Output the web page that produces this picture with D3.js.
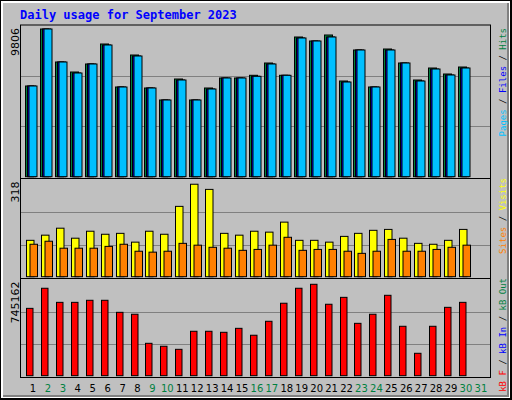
<!DOCTYPE html>
<html><head><meta charset="utf-8">
<script src="https://cdn.jsdelivr.net/npm/d3@7"></script>
<style>body{margin:0;background:#fff}</style>
</head><body>
<script>
var days = d3.range(1, 32)
var weekend = [2, 3, 9, 10, 16, 17, 23, 24, 30, 31]
var hits  = [5875,9566,7429,6781,7300,8595,5810,7882,5745,4968,6328,4968,5745,6393,6393,6568,7364,6568,9048,8789,9178,6198,8206,5810,8271,7364,6263,7040,6652,7105]
var files = [5875,9566,7429,6716,7300,8530,5810,7817,5745,4968,6263,4968,5680,6393,6393,6503,7300,6568,8984,8789,9048,6133,8206,5810,8206,7364,6198,6975,6587,7040]
var pages = files
var visits = [120,137,160,127,150,140,143,114,150,140,232,305,288,143,137,150,147,180,120,120,114,133,143,153,156,127,110,107,120,156]
var sites  = [107,117,94,94,94,100,107,84,81,84,110,104,97,94,87,90,104,130,87,90,90,84,77,84,123,84,84,90,97,104]
var kbytes = [526000,683000,573000,573000,589000,589000,495000,480000,253000,230000,206000,347000,347000,339000,370000,316000,425000,566000,683000,714000,558000,612000,409000,480000,628000,386000,175000,386000,534000,573000]
var maxLabels = ["9806", "318", "745162"]

var svg = d3.select("body").append("svg").attr("width", 512).attr("height", 400)
svg.append("rect").attr("x", 0).attr("y", 0).attr("width", 512).attr("height", 400).attr("fill", "#000")
svg.append("rect").attr("x", 1).attr("y", 1).attr("width", 509).attr("height", 397).attr("fill", "#fff")
svg.append("rect").attr("x", 3).attr("y", 3).attr("width", 506).attr("height", 394).attr("fill", "#808080")
svg.append("rect").attr("x", 3).attr("y", 3).attr("width", 504).attr("height", 392).attr("fill", "#c0c0c0")

svg.append("text").attr("x", 20).attr("y", 19)
    .style("font-family", "DejaVu Sans Mono").style("font-weight", "bold").style("font-size", "12px")
    .attr("fill", "#0000ff").text("Daily usage for September 2023")

var x = d3.scaleLinear().domain([1, 31]).range([25, 472.9])
var panels = [
  {top: 25, bottom: 178.5, y: d3.scaleLinear().domain([0, 9806]).range([176.7, 25.3])},
  {top: 178.5, bottom: 278.5, y: d3.scaleLinear().domain([0, 318]).range([276.7, 180.3])},
  {top: 278.5, bottom: 377.5, y: d3.scaleLinear().domain([0, 745162]).range([375.7, 280.3])}
]
panels.forEach(function(p, i) {
  svg.append("rect").attr("x", 20.5).attr("y", p.top).attr("width", 470).attr("height", p.bottom - p.top)
     .attr("fill", "#c0c0c0").attr("stroke", "#000")
  var b = p.y.range()[0], t = p.y.range()[1]
  ;[1, 2].forEach(function(k) {
    var gy = Math.round(b - (b - t) * k / 3) + 0.5
    svg.append("line").attr("x1", 21).attr("x2", 490).attr("y1", gy).attr("y2", gy).attr("stroke", "#808080")
  })
  svg.append("text").attr("transform", "translate(19," + (p.top + 3) + ") rotate(-90)")
     .attr("text-anchor", "end").style("font-family", "DejaVu Sans").style("font-size", "11px")
     .text(maxLabels[i])
})

function bars(data, p, dx, w, color) {
  svg.append("g").selectAll("rect").data(data).join("rect")
    .attr("x", function(d, i) { return Math.round(x(i + 1)) + dx + 0.5 })
    .attr("y", function(d) { return p.y(d) })
    .attr("width", w).attr("height", function(d) { return p.y(0) - p.y(d) })
    .attr("fill", color).attr("stroke", "#000")
}
bars(hits, panels[0], 0, 8, "#008040")
bars(files, panels[0], 2, 8, "#0000ff")
bars(pages, panels[0], 3.5, 8, "#00c0ff")
bars(visits, panels[1], 1, 7.5, "#ffff00")
bars(sites, panels[1], 4.5, 7.5, "#ff8000")
bars(kbytes, panels[2], 1, 6.5, "#ff0000")

svg.append("g").selectAll("text").data(days).join("text")
  .attr("x", function(d) { return x(d) + 8 }).attr("y", 392)
  .attr("text-anchor", "middle").style("font-family", "DejaVu Sans").style("font-size", "10px")
  .attr("fill", function(d) { return weekend.indexOf(d) >= 0 ? "#008040" : "#000" })
  .text(function(d) { return d })

var legends = [
  {y: 28, parts: [["Pages", "#00c0ff"], [" / ", "#000"], ["Files", "#0000ff"], [" / ", "#000"], ["Hits", "#008040"]]},
  {y: 178, parts: [["Sites", "#ff8000"], [" / ", "#000"], ["Visits", "#ffff00"]]},
  {y: 278, parts: [["kB F", "#ff0000"], [" / ", "#000"], ["kB In", "#0000ff"], [" / ", "#000"], ["kB Out", "#008040"]]}
]
legends.forEach(function(l) {
  svg.append("text").attr("transform", "translate(506," + l.y + ") rotate(-90)")
    .attr("text-anchor", "end").style("font-family", "DejaVu Sans Mono").style("font-size", "9px")
    .selectAll("tspan").data(l.parts).join("tspan")
    .attr("fill", function(d) { return d[1] }).text(function(d) { return d[0] })
})
</script>
</body></html>
